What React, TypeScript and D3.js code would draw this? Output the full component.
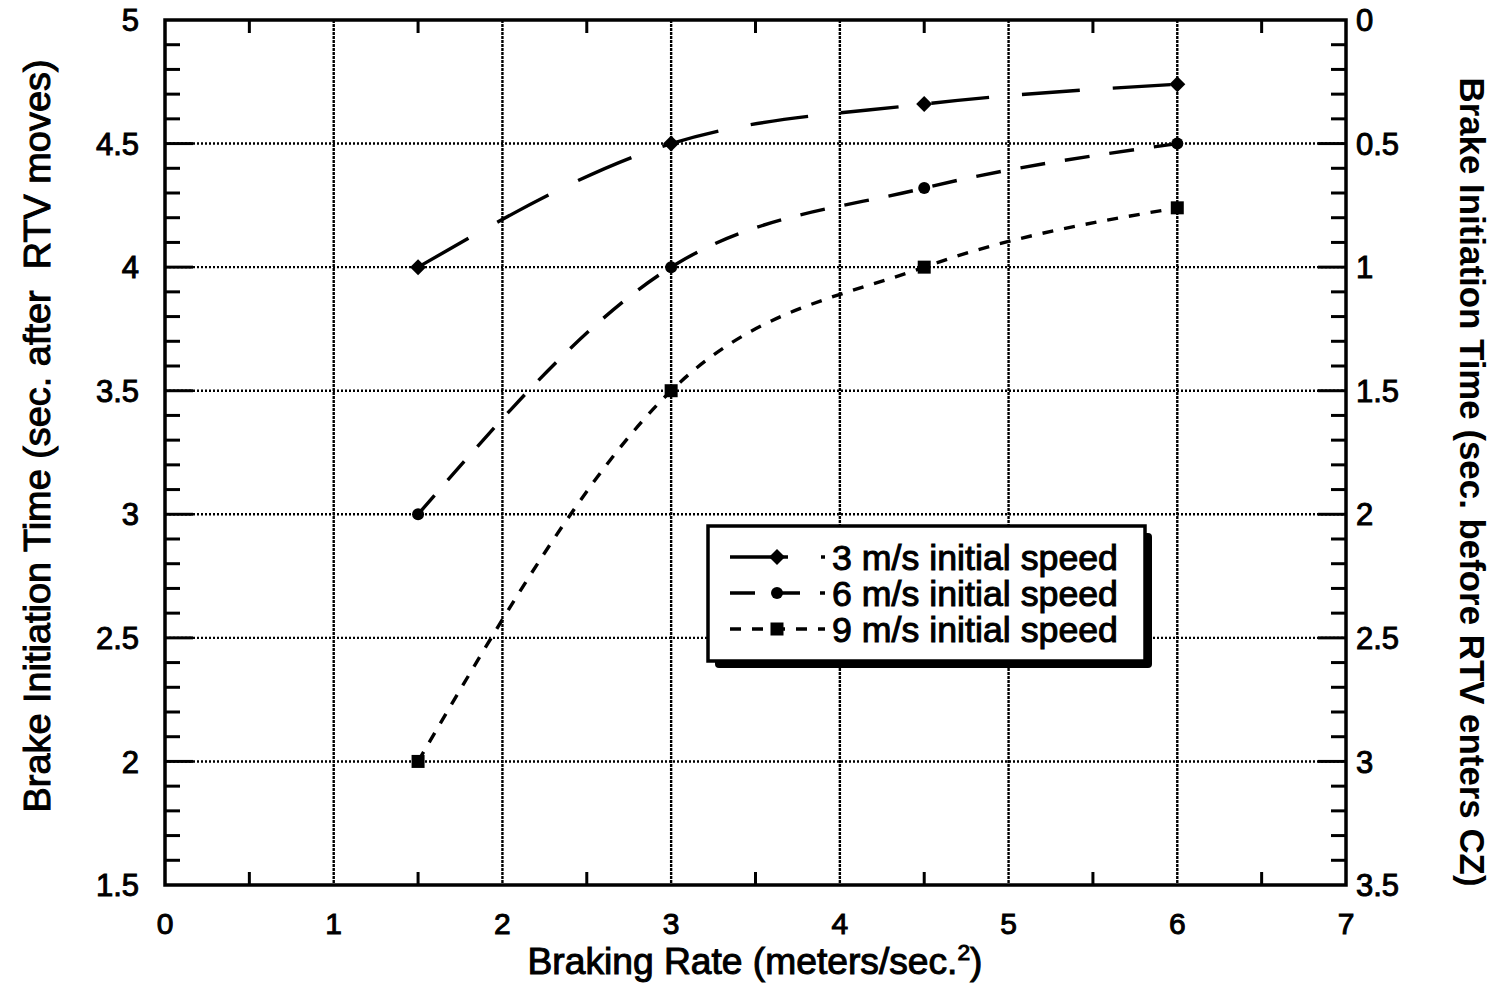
import React from 'react';
import * as d3 from 'd3';

const brakingRates = [1.5, 3, 4.5, 6];
const speed3 = [4.0, 4.5, 4.66, 4.74];
const speed6 = [3.0, 4.0, 4.32, 4.5];
const speed9 = [2.0, 3.5, 4.0, 4.24];
const seriesLabels = ['3 m/s initial speed', '6 m/s initial speed', '9 m/s initial speed'];
const xTicks = [0, 1, 2, 3, 4, 5, 6, 7];
const yTicksLeft = [1.5, 2, 2.5, 3, 3.5, 4, 4.5, 5];
const yTicksRight = [0, 0.5, 1, 1.5, 2, 2.5, 3, 3.5];

const FONT = '"Liberation Sans", Arial, Helvetica, sans-serif';

export default function App() {
  const L = 165, R = 1346, T = 20, B = 885;
  const x = d3.scaleLinear().domain([0, 7]).range([L, R]);
  const y = d3.scaleLinear().domain([1.5, 5]).range([B, T]);
  const yR = d3.scaleLinear().domain([0, 3.5]).range([T, B]);

  const series = [
    { label: seriesLabels[0], values: speed3, dash: '58 33', marker: 'diamond' },
    { label: seriesLabels[1], values: speed6, dash: '25 20', marker: 'circle' },
    { label: seriesLabels[2], values: speed9, dash: '11 11', marker: 'square' },
  ];

  const line = d3
    .line<number>()
    .x((_, i) => x(brakingRates[i]))
    .y((d) => y(d))
    .curve(d3.curveMonotoneX);

  const marker = (kind: string, cx: number, cy: number, key: string) => {
    if (kind === 'diamond') {
      const s = 8;
      return (
        <polygon
          key={key}
          points={`${cx},${cy - s} ${cx + s},${cy} ${cx},${cy + s} ${cx - s},${cy}`}
          fill="#000"
        />
      );
    }
    if (kind === 'circle') return <circle key={key} cx={cx} cy={cy} r={6} fill="#000" />;
    return <rect key={key} x={cx - 6.5} y={cy - 6.5} width={13} height={13} fill="#000" />;
  };

  const minorY = d3.range(15, 51).map((v) => v / 10).filter((v) => Math.round(v * 10) % 5 !== 0);
  const minorYR = d3.range(0, 36).map((v) => v / 10).filter((v) => Math.round(v * 10) % 5 !== 0);
  const minorX = d3.range(0, 7).map((v) => v + 0.5);
  const gridX = xTicks.filter((v) => v > 0 && v < 7);
  const gridY = yTicksLeft.filter((v) => v > 1.5 && v < 5);

  const lg = { x: 708, y: 526, w: 437, h: 135 };
  const rowY = [557, 593, 629];

  const textStyle = { fontFamily: FONT, fill: '#000', stroke: '#000', strokeWidth: 1 } as const;

  return (
    <svg width={1497} height={1000} style={{ position: 'absolute', left: 0, top: 0, background: '#fff' }}>
      <rect x={0} y={0} width={1497} height={1000} fill="#fff" />
      {/* grid */}
      {gridX.map((v) => (
        <line key={'gx' + v} x1={x(v)} x2={x(v)} y1={T} y2={B} stroke="#000" strokeWidth={2.4} strokeDasharray="3 1" />
      ))}
      {gridY.map((v) => (
        <line key={'gy' + v} x1={L} x2={R} y1={y(v)} y2={y(v)} stroke="#000" strokeWidth={2.4} strokeDasharray="2 2" />
      ))}
      {/* frame */}
      <rect x={L} y={T} width={R - L} height={B - T} fill="none" stroke="#000" strokeWidth={3.5} />
      {/* left ticks */}
      {minorY.map((v) => (
        <line key={'ml' + v} x1={L} x2={L + 15} y1={y(v)} y2={y(v)} stroke="#000" strokeWidth={3} />
      ))}
      {gridY.map((v) => (
        <line key={'Ml' + v} x1={L} x2={L + 28} y1={y(v)} y2={y(v)} stroke="#000" strokeWidth={3} />
      ))}
      {/* right ticks */}
      {minorYR.map((v) => (
        <line key={'mr' + v} x1={R} x2={R - 15} y1={yR(v)} y2={yR(v)} stroke="#000" strokeWidth={3} />
      ))}
      {yTicksRight.filter((v) => v > 0 && v < 3.5).map((v) => (
        <line key={'Mr' + v} x1={R} x2={R - 28} y1={yR(v)} y2={yR(v)} stroke="#000" strokeWidth={3} />
      ))}
      {/* x minor ticks */}
      {minorX.map((v) => (
        <g key={'mx' + v}>
          <line x1={x(v)} x2={x(v)} y1={B} y2={B - 13} stroke="#000" strokeWidth={3} />
          <line x1={x(v)} x2={x(v)} y1={T} y2={T + 13} stroke="#000" strokeWidth={3} />
        </g>
      ))}
      {/* tick labels */}
      {yTicksLeft.map((v) => (
        <text key={'tl' + v} x={139} y={y(v)} dy="0.36em" textAnchor="end" fontSize={31} style={textStyle}>
          {v}
        </text>
      ))}
      {yTicksRight.map((v) => (
        <text key={'tr' + v} x={1356} y={yR(v)} dy="0.36em" textAnchor="start" fontSize={31} style={textStyle}>
          {v}
        </text>
      ))}
      {xTicks.map((v) => (
        <text key={'tx' + v} x={x(v)} y={934} textAnchor="middle" fontSize={30} style={textStyle}>
          {v}
        </text>
      ))}
      {/* axis titles */}
      <text x={755} y={974} textAnchor="middle" fontSize={36} textLength={455} lengthAdjust="spacingAndGlyphs" style={textStyle}>
        Braking Rate (meters/sec.<tspan fontSize={22} dy={-14}>2</tspan><tspan dy={14}>)</tspan>
      </text>
      <text
        transform={`translate(50,436) rotate(-90)`}
        textAnchor="middle"
        fontSize={37}
        textLength={753}
        lengthAdjust="spacingAndGlyphs"
        style={{ ...textStyle, whiteSpace: 'pre' }}
      >
        {'Brake Initiation Time (sec. after  RTV moves)'}
      </text>
      <text
        transform={`translate(1460,482) rotate(90)`}
        textAnchor="middle"
        fontSize={35}
        fontWeight="bold"
        textLength={809}
        lengthAdjust="spacingAndGlyphs"
        style={{ fontFamily: FONT, fill: '#000' }}
      >
        Brake Initiation Time (sec. before RTV enters CZ)
      </text>
      {/* curves */}
      {series.map((s) => (
        <path key={'p' + s.label} d={line(s.values) || ''} fill="none" stroke="#000" strokeWidth={3.4} strokeDasharray={s.dash} />
      ))}
      {series.map((s) => s.values.map((v, i) => marker(s.marker, x(brakingRates[i]), y(v), s.label + i)))}
      {/* legend */}
      <rect x={lg.x + 7} y={lg.y + 7} width={lg.w} height={lg.h} fill="#000" rx={4} />
      <rect x={lg.x} y={lg.y} width={lg.w} height={lg.h} fill="#fff" stroke="#000" strokeWidth={3.5} />
      {series.map((s, i) => (
        <g key={'lg' + i}>
          <line x1={730} x2={825} y1={rowY[i]} y2={rowY[i]} stroke="#000" strokeWidth={3.4} strokeDasharray={s.dash} />
          {marker(s.marker, 777, rowY[i], 'lm' + i)}
          <text x={832} y={rowY[i]} dy="0.36em" fontSize={35} textLength={286} lengthAdjust="spacingAndGlyphs" style={textStyle}>
            {s.label}
          </text>
        </g>
      ))}
    </svg>
  );
}
